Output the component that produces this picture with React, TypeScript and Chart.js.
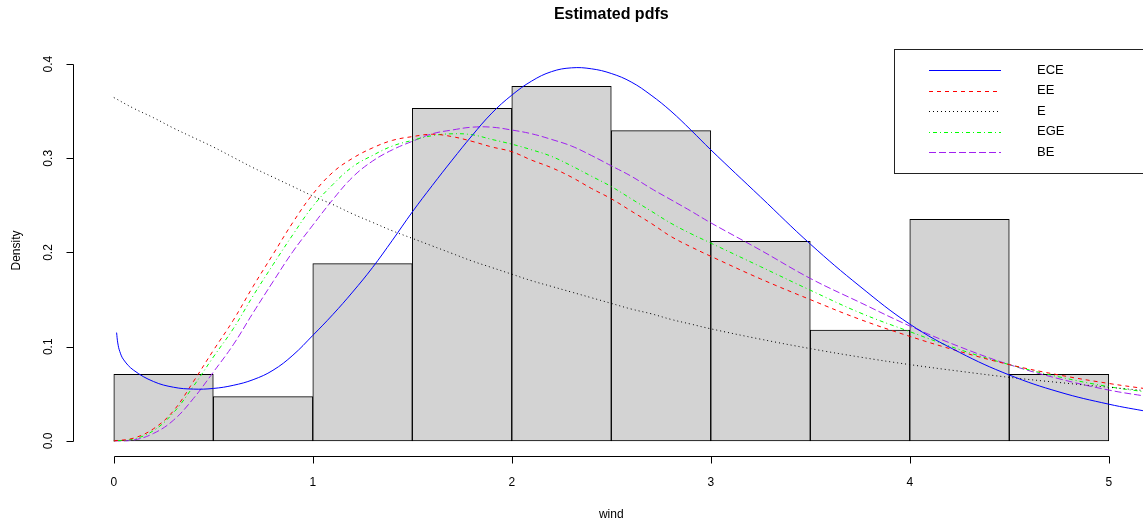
import React, { useEffect, useRef } from "react";
import { Chart, registerables } from "chart.js";

Chart.register(...registerables);

// Histogram of wind (density scale)
const breaks = [0, 0.5, 1, 1.5, 2, 2.5, 3, 3.5, 4, 4.5, 5];
const histDensity = [0.0706, 0.0471, 0.1882, 0.3529, 0.3765, 0.3294, 0.2118, 0.1176, 0.2353, 0.0706];

// Common x grid for the fitted curves EE, E, EGE, BE
const xGrid = [
  0, 0.1, 0.2, 0.3, 0.4, 0.5, 0.6, 0.7, 0.8, 0.9, 1.0,
  1.1, 1.2, 1.3, 1.4, 1.5, 1.6, 1.7, 1.8, 1.9, 2.0,
  2.1, 2.2, 2.3, 2.4, 2.5, 2.6, 2.7, 2.8, 2.9, 3.0,
  3.25, 3.5, 3.75, 4.0, 4.25, 4.5, 4.75, 5.0, 5.2,
];
const eeValues = [
  0, 0.003, 0.013, 0.032, 0.063, 0.096, 0.128, 0.164, 0.198, 0.232, 0.262,
  0.285, 0.300, 0.311, 0.319, 0.323, 0.3255, 0.323, 0.318, 0.312, 0.307,
  0.298, 0.290, 0.280, 0.268, 0.257, 0.244, 0.231, 0.217, 0.206, 0.196,
  0.172, 0.150, 0.129, 0.111, 0.095, 0.081, 0.070, 0.061, 0.055,
];
const eValues = [
  0.3645, 0.353, 0.343, 0.332, 0.322, 0.312, 0.301, 0.290, 0.280, 0.270, 0.260,
  0.251, 0.241, 0.232, 0.223, 0.215, 0.207, 0.199, 0.191, 0.184, 0.177,
  0.170, 0.164, 0.158, 0.152, 0.146, 0.140, 0.135, 0.129, 0.124, 0.119,
  0.108, 0.098, 0.089, 0.081, 0.074, 0.0675, 0.062, 0.057, 0.053,
];
const egeValues = [
  0, 0.002, 0.011, 0.030, 0.058, 0.089, 0.119, 0.154, 0.187, 0.219, 0.249,
  0.272, 0.291, 0.303, 0.313, 0.319, 0.324, 0.326, 0.325, 0.320, 0.315,
  0.309, 0.302, 0.292, 0.281, 0.270, 0.257, 0.244, 0.231, 0.220, 0.210,
  0.185, 0.160, 0.136, 0.116, 0.097, 0.081, 0.068, 0.0576, 0.0516,
];
const beValues = [
  0, 0.001, 0.008, 0.022, 0.045, 0.073, 0.102, 0.136, 0.169, 0.201, 0.229,
  0.256, 0.280, 0.297, 0.309, 0.318, 0.326, 0.330, 0.333, 0.333, 0.330,
  0.326, 0.320, 0.313, 0.303, 0.292, 0.281, 0.268, 0.256, 0.244, 0.2315,
  0.2025, 0.1725, 0.147, 0.122, 0.100, 0.081, 0.066, 0.054, 0.047,
];

// ECE curve (own grid, steep near zero)
const eceX = [
  0.014, 0.02, 0.03, 0.05, 0.1, 0.2, 0.3, 0.4, 0.5, 0.6, 0.7, 0.8, 0.9, 1.0,
  1.1, 1.2, 1.3, 1.4, 1.5, 1.6, 1.7, 1.8, 1.9, 2.0,
  2.1, 2.2, 2.3, 2.4, 2.5, 2.6, 2.7, 2.8, 2.9, 3.0,
  3.25, 3.5, 3.75, 4.0, 4.25, 4.5, 4.75, 5.0, 5.2,
];
const eceValues = [
  0.115, 0.104, 0.095, 0.086, 0.075, 0.063, 0.057, 0.055, 0.0557, 0.059, 0.065, 0.075, 0.091, 0.112,
  0.134, 0.158, 0.184, 0.213, 0.243, 0.271, 0.298, 0.324, 0.348, 0.367,
  0.382, 0.392, 0.396, 0.395, 0.390, 0.381, 0.367, 0.350, 0.330, 0.309,
  0.259, 0.209, 0.164, 0.124, 0.094, 0.070, 0.052, 0.039, 0.031,
];

const xTicks = [0, 1, 2, 3, 4, 5];
const yTicks = [0, 0.1, 0.2, 0.3, 0.4];
const yTickLabels = ["0.0", "0.1", "0.2", "0.3", "0.4"];

const legendLabels = ["ECE", "EE", "E", "EGE", "BE"];
const legendColors = ["#0000FF", "#FF0000", "#000000", "#00FF00", "#A020F0"];
const legendDashes: number[][] = [[], [4, 4], [1, 3], [1, 3, 4, 3], [7, 3]];

const titleText = "Estimated pdfs";
const xTitle = "wind";
const yTitle = "Density";

const FONT = '"Liberation Sans", Arial, Helvetica, sans-serif';

const rBasePlugin = {
  id: "rBase",
  afterDraw(chart: any) {
    const { ctx, chartArea } = chart;
    const xs = chart.scales.x;
    const ys = chart.scales.y;
    ctx.save();
    ctx.strokeStyle = "#000";
    ctx.fillStyle = "#000";
    ctx.lineWidth = 1;
    ctx.setLineDash([]);

    // x axis
    const xb = Math.round(chartArea.bottom) + 0.5;
    ctx.beginPath();
    ctx.moveTo(Math.round(xs.getPixelForValue(xTicks[0])) + 0.5, xb);
    ctx.lineTo(Math.round(xs.getPixelForValue(xTicks[xTicks.length - 1])) + 0.5, xb);
    xTicks.forEach((v) => {
      const px = Math.round(xs.getPixelForValue(v)) + 0.5;
      ctx.moveTo(px, xb);
      ctx.lineTo(px, xb + 7);
    });
    ctx.stroke();
    ctx.font = "12px " + FONT;
    ctx.textAlign = "center";
    ctx.textBaseline = "middle";
    xTicks.forEach((v) => {
      ctx.fillText(String(v), xs.getPixelForValue(v), xb + 26);
    });

    // y axis
    const yl = Math.round(chartArea.left) - 0.5;
    ctx.beginPath();
    ctx.moveTo(yl, Math.round(ys.getPixelForValue(yTicks[0])) + 0.5);
    ctx.lineTo(yl, Math.round(ys.getPixelForValue(yTicks[yTicks.length - 1])) + 0.5);
    yTicks.forEach((v) => {
      const py = Math.round(ys.getPixelForValue(v)) + 0.5;
      ctx.moveTo(yl, py);
      ctx.lineTo(yl - 7, py);
    });
    ctx.stroke();
    yTicks.forEach((v, i) => {
      ctx.save();
      ctx.translate(yl - 25, ys.getPixelForValue(v));
      ctx.rotate(-Math.PI / 2);
      ctx.fillText(yTickLabels[i], 0, 0);
      ctx.restore();
    });

    // axis titles
    const plotRight = xs.getPixelForValue(5.2);
    const cx = (chartArea.left + plotRight) / 2;
    ctx.fillText(xTitle, cx, 515);
    ctx.save();
    ctx.translate(17, (chartArea.top + chartArea.bottom) / 2 - 2);
    ctx.rotate(-Math.PI / 2);
    ctx.fillText(yTitle, 0, 0);
    ctx.restore();

    // main title
    ctx.font = "bold 16px " + FONT;
    ctx.fillText(titleText, cx, 15);

    // legend
    const bx = 894.5;
    const by = Math.round(chartArea.top) + 0.5;
    ctx.fillStyle = "#fff";
    ctx.fillRect(bx, by, 300, 124);
    ctx.strokeStyle = "#222";
    ctx.strokeRect(bx, by, 300, 124);
    ctx.font = "13px " + FONT;
    ctx.textAlign = "left";
    legendLabels.forEach((lab, i) => {
      const ly = 70 + i * 20.6;
      ctx.strokeStyle = legendColors[i];
      ctx.setLineDash(legendDashes[i]);
      ctx.beginPath();
      ctx.moveTo(929, Math.round(ly) + 0.5);
      ctx.lineTo(1001, Math.round(ly) + 0.5);
      ctx.stroke();
      ctx.setLineDash([]);
      ctx.fillStyle = "#000";
      ctx.fillText(lab, 1037, ly);
    });
    ctx.restore();
  },
};

export default function App() {
  const ref = useRef<HTMLCanvasElement | null>(null);
  useEffect(() => {
    if (!ref.current) return;
    const centers = histDensity.map((_, i) => (breaks[i] + breaks[i + 1]) / 2);
    const toPts = (xsArr: number[], ysArr: number[]) => xsArr.map((x, i) => ({ x, y: ysArr[i] }));
    const lineDs = (label: string, xsArr: number[], ysArr: number[], idx: number) => ({
      type: "line" as const,
      label,
      data: toPts(xsArr, ysArr),
      borderColor: legendColors[idx],
      borderWidth: 1,
      borderDash: legendDashes[idx],
      pointRadius: 0,
      fill: false,
      tension: 0.4,
      order: 1,
    });
    const chart = new Chart(ref.current, {
      type: "line",
      data: {
        datasets: [
          lineDs("ECE", eceX, eceValues, 0),
          lineDs("EE", xGrid, eeValues, 1),
          lineDs("E", xGrid, eValues, 2),
          lineDs("EGE", xGrid, egeValues, 3),
          lineDs("BE", xGrid, beValues, 4),
          {
            type: "bar" as const,
            label: "hist",
            data: toPts(centers, histDensity),
            backgroundColor: "#D3D3D3",
            borderColor: "#000",
            borderWidth: 1,
            borderSkipped: false,
            barPercentage: 1,
            categoryPercentage: 1,
            order: 10,
          } as any,
        ],
      },
      options: {
        animation: false,
        responsive: false,
        devicePixelRatio: 1,
        layout: { padding: { left: 74, right: 0, top: 49, bottom: 68 } },
        plugins: {
          legend: { display: false },
          title: { display: false },
          tooltip: { enabled: false },
        },
        scales: {
          x: { type: "linear", display: false, offset: false, grid: { offset: false }, min: -0.2, max: 5.172 },
          y: { type: "linear", display: false, min: -0.016, max: 0.416 },
        },
      },
      plugins: [rBasePlugin],
    });
    return () => chart.destroy();
  }, []);
  return (
    <div style={{ position: "fixed", left: 0, top: 0, width: 1143, height: 524, background: "#fff" }}>
      <canvas ref={ref} width={1143} height={524} />
    </div>
  );
}
